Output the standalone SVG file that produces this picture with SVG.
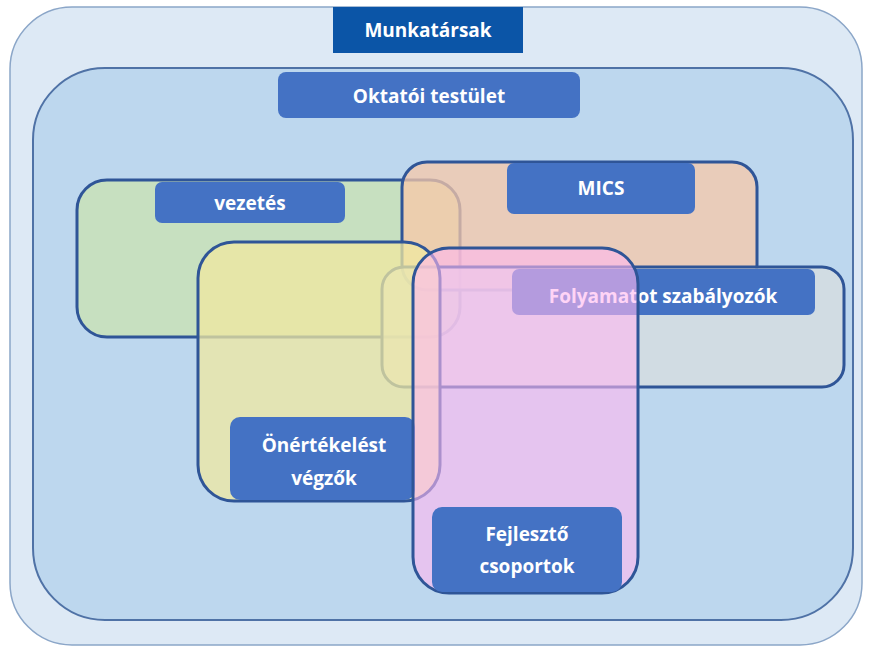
<svg xmlns="http://www.w3.org/2000/svg" width="870" height="648" viewBox="0 0 870 648">
<style>
.lbl{fill:#4472c4}
.t{font-family:"Open Sans","Liberation Sans",sans-serif;font-weight:700;font-size:19px;fill:#ffffff;text-anchor:middle}
.box{stroke:#2f5597;stroke-width:3}
</style>
<rect width="870" height="648" fill="#ffffff"/>
<g id="munkatarsak">
<rect x="10" y="7" width="852" height="638" rx="62" fill="#dde9f5" stroke="#8ba6c8" stroke-width="1.5"/>
<rect x="333" y="7" width="190" height="46" fill="#0b55a7"/>
<text class="t" x="428" y="37">Munkatársak</text>
</g>
<g id="oktatoi-testulet">
<rect x="33" y="68" width="820" height="552" rx="72" fill="#bdd7ee" stroke="#4f72a6" stroke-width="2"/>
<rect class="lbl" x="278" y="72" width="302" height="46" rx="8"/>
<text class="t" x="429" y="103">Oktatói testület</text>
</g>
<g id="vezetes">
<rect class="box" x="77" y="180" width="383" height="157" rx="30" fill="#c7e0c0"/>
<rect class="lbl" x="155" y="182" width="190" height="41" rx="7"/>
<text class="t" x="250" y="210">vezetés</text>
</g>
<g id="mics">
<rect class="box" x="402" y="162" width="355" height="128" rx="25" fill="#f8c8a8" fill-opacity="0.75"/>
<rect class="lbl" x="507" y="163" width="188" height="51" rx="7"/>
<text class="t" x="601" y="195">MICS</text>
</g>
<g id="folyamatot">
<rect class="box" x="382" y="267" width="462" height="120" rx="22" fill="#d6dde0" fill-opacity="0.8"/>
<rect class="lbl" x="512" y="269" width="303" height="46" rx="7"/>
<text class="t" x="663" y="303">Folyamatot szabályozók</text>
</g>
<g id="onertekeles">
<rect class="box" x="198" y="242" width="242" height="259" rx="36" fill="#f0e8a0" fill-opacity="0.75"/>
<rect class="lbl" x="230" y="417" width="185" height="83" rx="10"/>
<text class="t" x="324" y="452">Önértékelést</text>
<text class="t" x="324" y="485">végzők</text>
</g>
<g id="fejleszto">
<rect class="box" x="413" y="248" width="225" height="345" rx="36" fill="#ffb8f0" fill-opacity="0.6"/>
<rect class="lbl" x="432" y="507" width="190" height="85" rx="10"/>
<text class="t" x="527" y="541">Fejlesztő</text>
<text class="t" x="527" y="573">csoportok</text>
</g>
<g id="connectors"/>
</svg>
